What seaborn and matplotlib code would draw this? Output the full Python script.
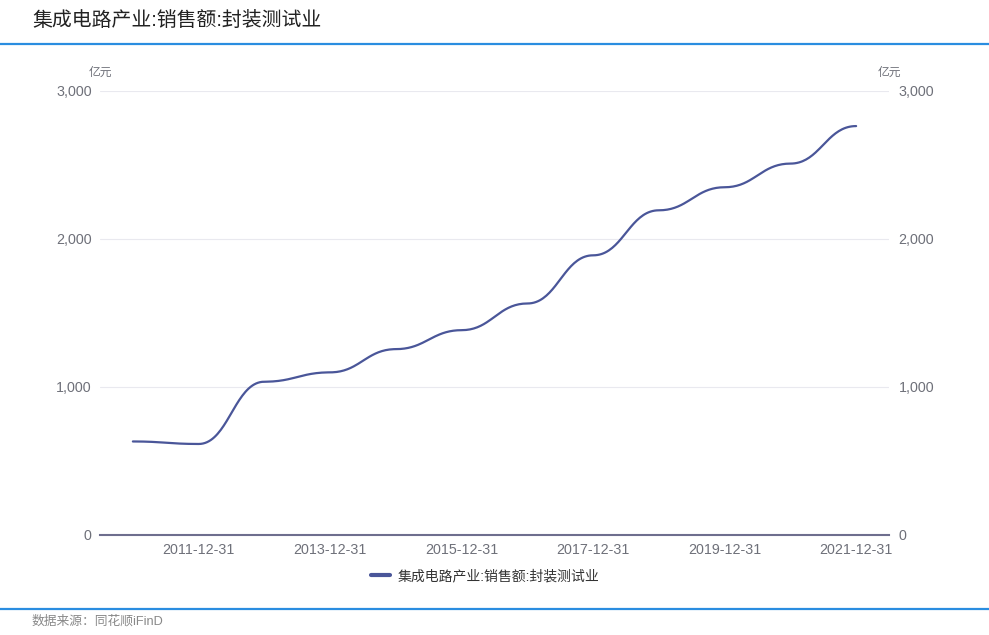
import numpy as np
import pandas as pd
import matplotlib
matplotlib.use('Agg')
import matplotlib.pyplot as plt
from matplotlib.lines import Line2D
import seaborn as sns

years = ['2010-12-31', '2011-12-31', '2012-12-31', '2013-12-31', '2014-12-31', '2015-12-31',
         '2016-12-31', '2017-12-31', '2018-12-31', '2019-12-31', '2020-12-31', '2021-12-31']
sales = [632.0, 615.0, 1035.7, 1098.9, 1255.9, 1384.0, 1564.3, 1889.7, 2193.9, 2349.7, 2509.5, 2763.0]
series_name = '集成电路产业:销售额:封装测试业'
yticks = [0, 1000, 2000, 3000]

sns.set_theme(style='white')
plt.rcParams['font.family'] = ['Liberation Sans', 'Noto Sans CJK SC', 'DejaVu Sans']

# smooth curve like the web chart (flat tangent at each point)
def smooth(xs, ys, s=0.45, n=40):
    px, py = [], []
    for i in range(len(xs) - 1):
        t = np.linspace(0, 1, n)
        x0, x3 = xs[i], xs[i + 1]
        y0, y3 = ys[i], ys[i + 1]
        dx = x3 - x0
        x1, x2 = x0 + s * dx, x3 - s * dx
        bx = (1-t)**3*x0 + 3*(1-t)**2*t*x1 + 3*(1-t)*t**2*x2 + t**3*x3
        by = (1-t)**3*y0 + 3*(1-t)**2*t*y0 + 3*(1-t)*t**2*y3 + t**3*y3
        px.extend(bx if i == 0 else bx[1:])
        py.extend(by if i == 0 else by[1:])
    return np.array(px), np.array(py)

xs = np.arange(len(years))
sx, sy = smooth(xs, sales)
df = pd.DataFrame({'x': sx, 'y': sy, 's': series_name})

W, H = 989, 635
fig = plt.figure(figsize=(W/100, H/100), dpi=100)
ax = fig.add_axes([100/W, (H-535)/H, 789/W, 444/H])

line_c = '#4a5699'
grey = '#6e7079'
sns.lineplot(data=df, x='x', y='y', color=line_c, lw=1.6, ax=ax, sort=False, legend=False)

ax.set_xlim(-0.5, len(years)-0.5)
ax.set_ylim(0, 3000)
ax.set_xticks(xs[1::2])
ax.set_xticklabels([years[i] for i in xs[1::2]])
ax.set_yticks(yticks)
ax.set_yticklabels([f'{v:,}' for v in yticks])
ax.set_xlabel('')
ax.set_ylabel('')
ax.grid(axis='y', color='#e9e9ef', lw=0.8)
for sp in ['top', 'left', 'right']:
    ax.spines[sp].set_visible(False)
ax.spines['bottom'].set_color('#6e6e8e')
ax.spines['bottom'].set_linewidth(1.5)
ax.tick_params(axis='both', length=0, labelsize=10.3, colors=grey, pad=6)
ax.tick_params(axis='x', pad=6)

ax2 = ax.twinx()
ax2.set_ylim(0, 3000)
ax2.set_yticks(yticks)
ax2.set_yticklabels([f'{v:,}' for v in yticks])
for sp in ['top', 'left', 'right', 'bottom']:
    ax2.spines[sp].set_visible(False)
ax2.tick_params(axis='y', length=0, labelsize=10.3, colors=grey, pad=7)

fig.text(100/W, 1-73/H, '亿元', ha='center', va='center', fontsize=8.5, color=grey)
fig.text(889/W, 1-73/H, '亿元', ha='center', va='center', fontsize=8.5, color=grey)

fig.text(32/W, 1-20/H, '集成电路产业:销售额:封装测试业', ha='left', va='center', fontsize=14.3, color='#222222')
fig.add_artist(Line2D([0, 1], [1-44/H, 1-44/H], color='#2a8de0', lw=1.6))
fig.add_artist(Line2D([0, 1], [1-609/H, 1-609/H], color='#2a8de0', lw=1.6))
fig.text(32/W, 1-621/H, '数据来源：同花顺iFinD', ha='left', va='center', fontsize=9.2, color='#888888')

handle = Line2D([], [], color=line_c, lw=3)
fig.legend([handle], [series_name], loc='center', bbox_to_anchor=(485/W, 1-576/H),
           frameon=False, fontsize=10, handlelength=1.4, handletextpad=0.5, labelcolor='#333333')

fig.savefig('out.png', dpi=100, facecolor='white')
